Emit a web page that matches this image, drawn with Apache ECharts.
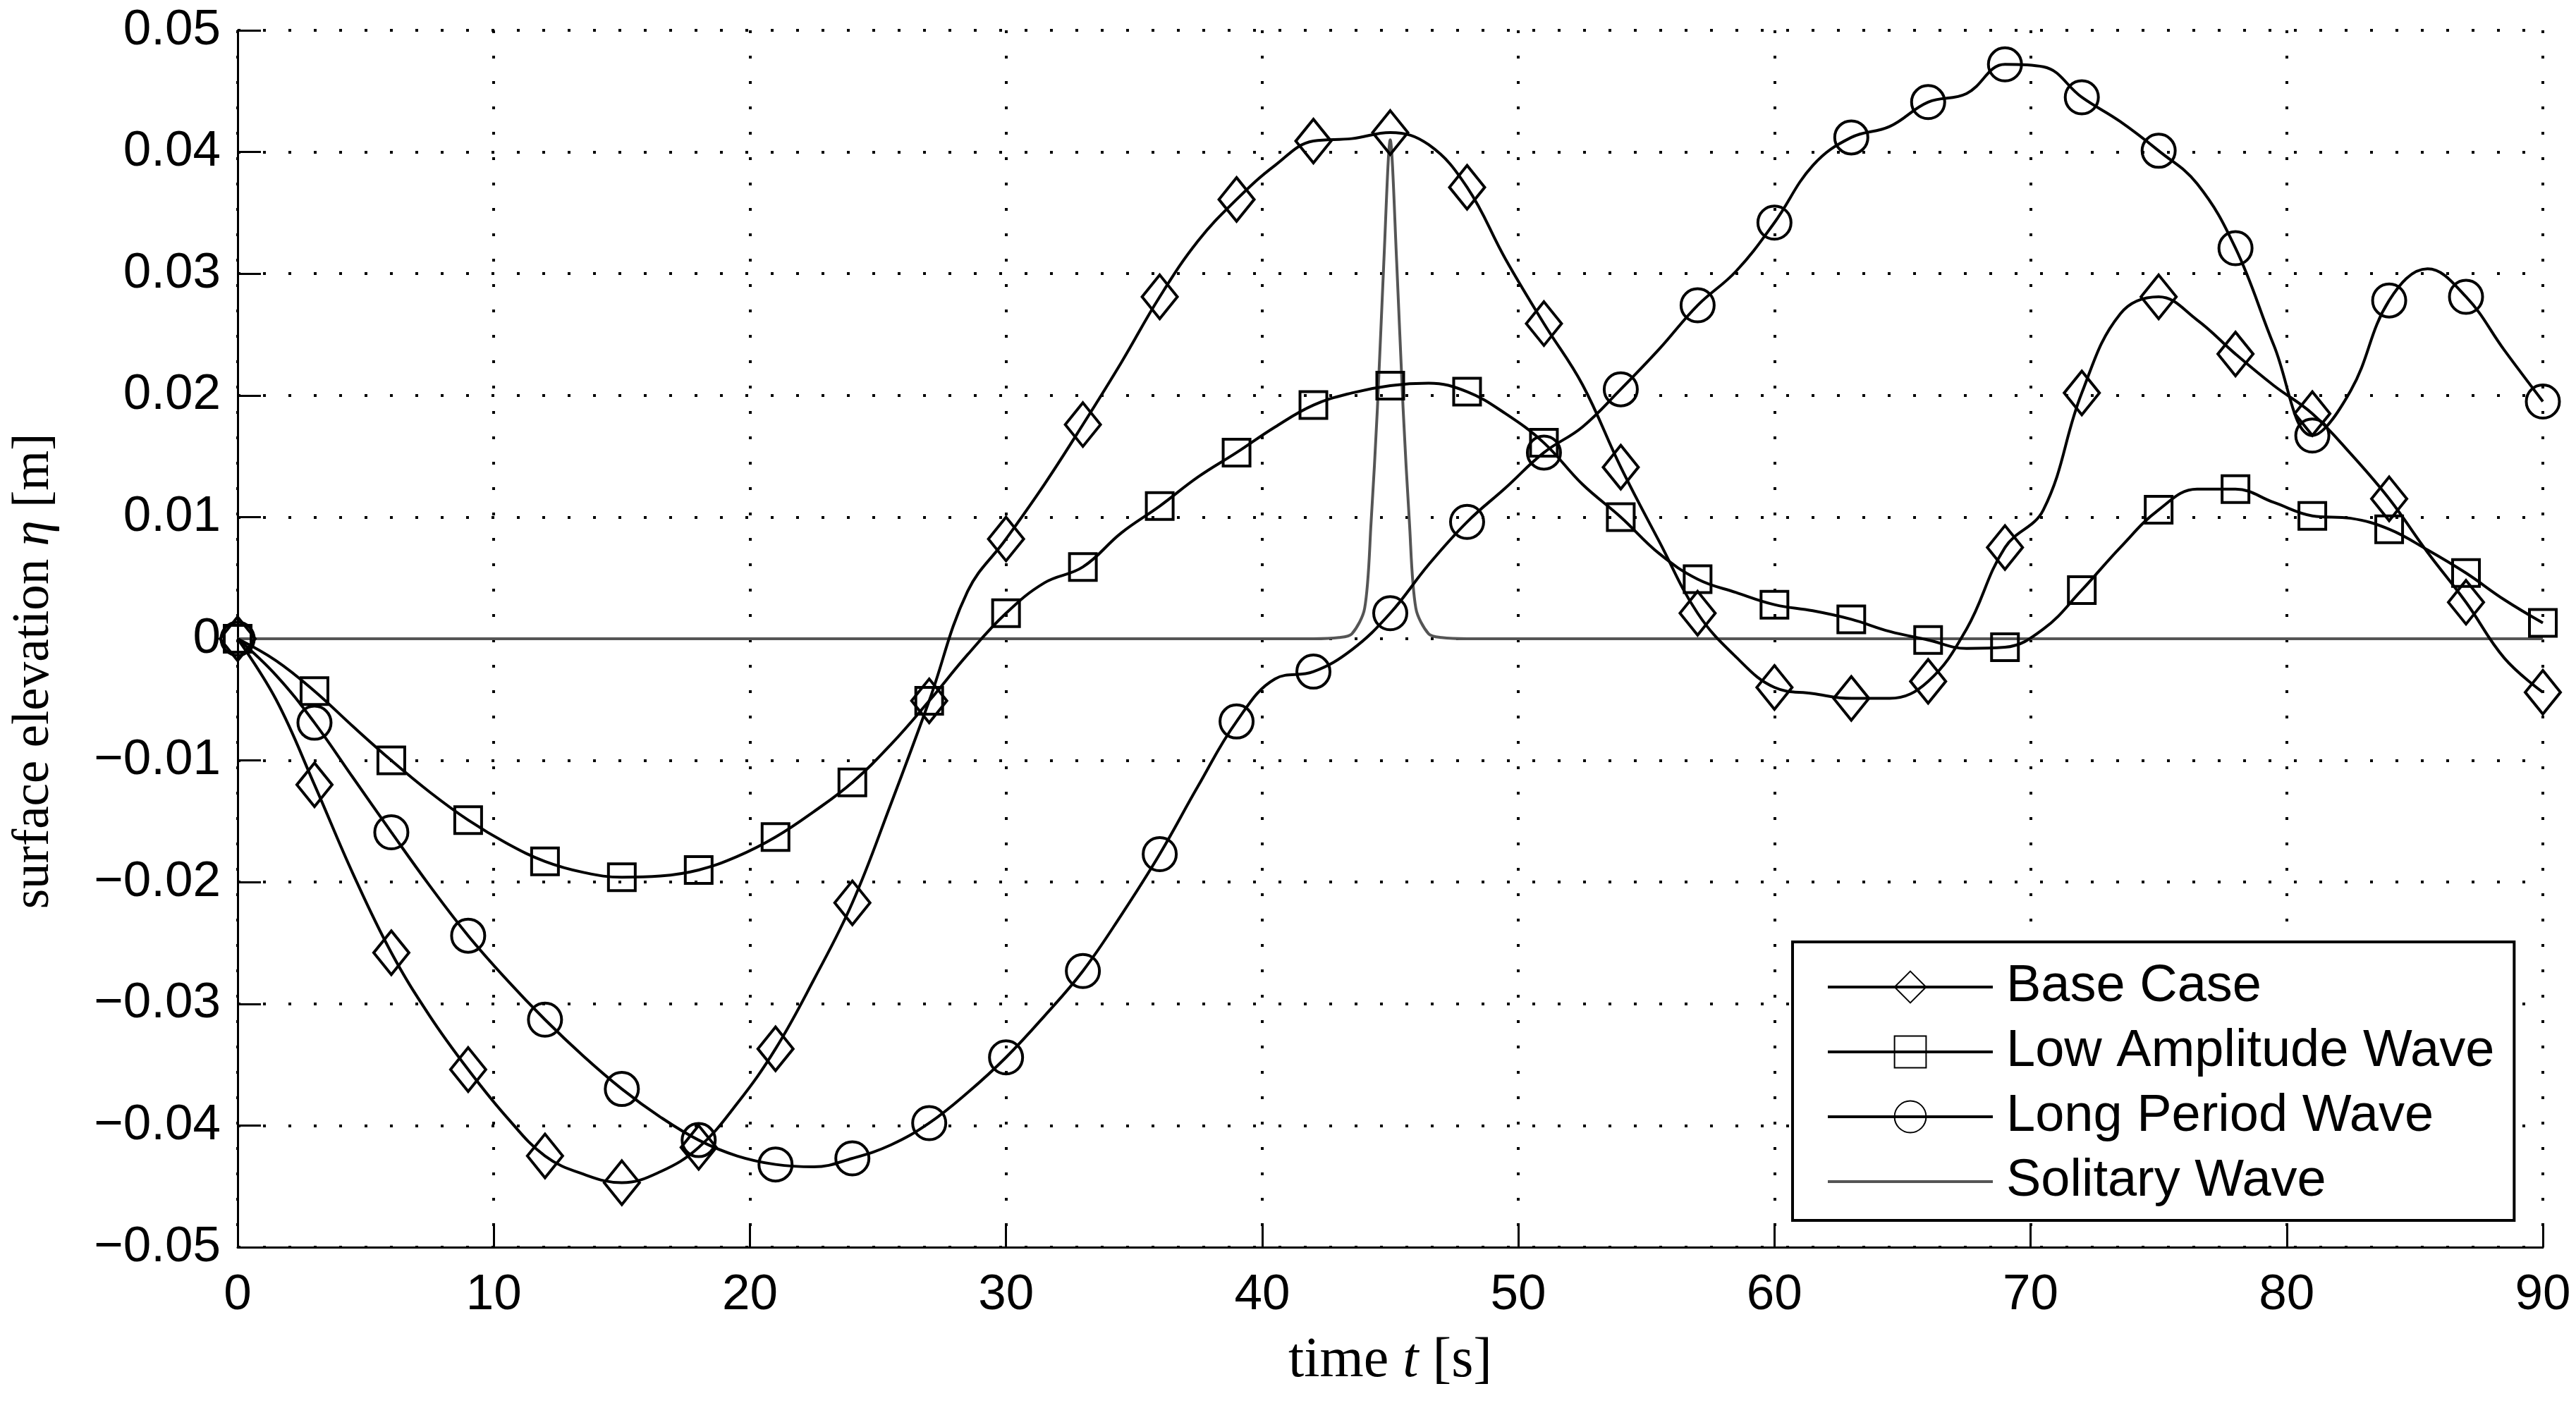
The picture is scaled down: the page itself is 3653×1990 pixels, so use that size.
<!DOCTYPE html>
<html>
<head>
<meta charset="utf-8">
<script src="https://cdn.jsdelivr.net/npm/echarts@6/dist/echarts.min.js"></script>
<style>
html, body { margin: 0; padding: 0; background: #fff; }
#main_chart { width: 3653px; height: 1990px; }
</style>
</head>
<body>
<div id="main_chart"></div>
<script>
// time samples of the curves (every 1.5 s, markers on every 3 s)
var timeLine = [0, 1.5, 3, 4.5, 6, 7.5, 9, 10.5, 12, 13.5, 15, 16.5, 18, 19.5, 21, 22.5, 24, 25.5, 27, 28.5,
    30, 31.5, 33, 34.5, 36, 37.5, 39, 40.5, 42, 43.5, 45, 46.5, 48, 49.5, 51, 52.5, 54, 55.5, 57, 58.5,
    60, 61.5, 63, 64.5, 66, 67.5, 69, 70.5, 72, 73.5, 75, 76.5, 78, 79.5, 81, 82.5, 84, 85.5, 87, 88.5, 90];

var baseCase = [0, -0.0050, -0.0120, -0.0193, -0.0258, -0.0310, -0.0354, -0.0393, -0.0425, -0.0440,
    -0.0447, -0.0438, -0.0418, -0.0382, -0.0337, -0.0280, -0.0217, -0.0136, -0.0051, 0.0039,
    0.0082, 0.0127, 0.0176, 0.0227, 0.0281, 0.0327, 0.0361, 0.0389, 0.0409, 0.0411,
    0.0416, 0.0406, 0.0371, 0.0312, 0.0259, 0.0209, 0.0141, 0.0080, 0.0021, -0.0015,
    -0.0040, -0.0045, -0.0049, -0.0049, -0.0035, 0.0008, 0.0075, 0.0106, 0.0202, 0.0267,
    0.0281, 0.0262, 0.0234, 0.0208, 0.0185, 0.0152, 0.0115, 0.0071, 0.0030, -0.0016, -0.0044];

var lowAmplitude = [0, -0.0018, -0.0043, -0.0072, -0.0100, -0.0126, -0.0149, -0.0168, -0.0183, -0.0192,
    -0.0196, -0.0195, -0.0190, -0.0179, -0.0163, -0.0142, -0.0118, -0.0087, -0.0051, -0.0013,
    0.0021, 0.0046, 0.0059, 0.0087, 0.0109, 0.0133, 0.0153, 0.0174, 0.0192, 0.0202,
    0.0208, 0.0210, 0.0203, 0.0185, 0.0161, 0.0127, 0.0100, 0.0070, 0.0049, 0.0038,
    0.0028, 0.0023, 0.0016, 0.0006, -0.0001, -0.0008, -0.0007, 0.0008, 0.0040, 0.0075,
    0.0106, 0.0123, 0.0123, 0.0112, 0.0101, 0.0099, 0.0090, 0.0073, 0.0054, 0.0032, 0.0013];

var longPeriod = [0, -0.0030, -0.0069, -0.0114, -0.0159, -0.0203, -0.0244, -0.0280, -0.0313, -0.0343,
    -0.0370, -0.0393, -0.0412, -0.0425, -0.0432, -0.0434, -0.0427, -0.0416, -0.0398, -0.0373,
    -0.0344, -0.0310, -0.0273, -0.0227, -0.0177, -0.0121, -0.0068, -0.0033, -0.0027, -0.0009,
    0.0021, 0.0061, 0.0096, 0.0124, 0.0153, 0.0174, 0.0205, 0.0238, 0.0274, 0.0302,
    0.0342, 0.0389, 0.0412, 0.0421, 0.0441, 0.0448, 0.0472, 0.0470, 0.0445, 0.0425,
    0.0401, 0.0374, 0.0321, 0.0241, 0.0167, 0.0204, 0.0278, 0.0304, 0.0281, 0.0237, 0.0195];

// solitary wave: flat except a narrow peak near 45 s
var solitaryTime = [0, 42, 43, 43.5, 44, 44.25, 44.5, 44.75, 45, 45.25, 45.5, 45.75, 46, 46.5, 47, 48, 90];
var solitaryWave = [0, 0, 0.0001, 0.0004, 0.0025, 0.0095, 0.019, 0.031, 0.041, 0.031, 0.019, 0.0095, 0.0025, 0.0004, 0.0001, 0, 0];

var seriesNames = ['Base Case', 'Low Amplitude Wave', 'Long Period Wave', 'Solitary Wave'];

var sansFont = 'Liberation Sans';
var serifFont = 'Liberation Serif';

function withMarkers(values) {
    var out = [];
    for (var i = 0; i < timeLine.length; i++) {
        if (i % 2 === 0) {
            out.push([timeLine[i], values[i]]);
        } else {
            out.push({ value: [timeLine[i], values[i]], symbol: 'none' });
        }
    }
    return out;
}

function markerSeries(name, values, symbol, size) {
    return {
        name: name,
        type: 'line',
        data: withMarkers(values),
        smooth: 0.4,
        symbol: symbol,
        symbolSize: size,
        showAllSymbol: true,
        color: '#000',
        lineStyle: { color: '#000', width: 4 },
        itemStyle: { color: 'rgba(0,0,0,0)', borderColor: '#000', borderWidth: 4 },
        emphasis: { disabled: true }
    };
}

var solitaryData = solitaryTime.map(function (t, i) { return [t, solitaryWave[i]]; });

const myChart = echarts.init(document.getElementById('main_chart'));

var option = {
    animation: false,
    backgroundColor: '#fff',
    grid: { left: 337, top: 43, width: 3269, height: 1726 },
    legend: {
        data: seriesNames,
        orient: 'vertical',
        left: 2542,
        top: 1336,
        padding: [27, 28, 18, 48],
        itemWidth: 234,
        itemHeight: 56,
        itemGap: 18,
        backgroundColor: '#fff',
        borderColor: '#000',
        borderWidth: 4,
        borderRadius: 0,
        lineStyle: { width: 4 },
        textStyle: { fontFamily: sansFont, fontSize: 74, color: '#000', padding: [0, 0, 0, 14] }
    },
    xAxis: {
        type: 'value',
        min: 0,
        max: 90,
        interval: 10,
        name: 'time {i|t} [s]',
        nameLocation: 'middle',
        nameGap: 122,
        nameTextStyle: {
            fontFamily: serifFont, fontSize: 80, color: '#000',
            rich: { i: { fontFamily: serifFont, fontSize: 80, fontStyle: 'italic', color: '#000' } }
        },
        axisLine: { onZero: false, lineStyle: { color: '#000', width: 3 } },
        axisTick: { inside: true, length: 33, lineStyle: { color: '#000', width: 3 } },
        axisLabel: { fontFamily: sansFont, fontSize: 71, color: '#000', margin: 33 },
        splitLine: { show: true, lineStyle: { color: '#000', width: 4, type: [4, 32] } }
    },
    yAxis: {
        type: 'value',
        min: -0.05,
        max: 0.05,
        interval: 0.01,
        name: 'surface elevation {i|η} [m]',
        nameLocation: 'middle',
        nameGap: 252,
        nameRotate: 90,
        nameTextStyle: {
            fontFamily: serifFont, fontSize: 73, color: '#000',
            padding: [0, 92, 0, 0],
            rich: { i: { fontFamily: serifFont, fontSize: 73, fontStyle: 'italic', color: '#000' } }
        },
        axisLine: { lineStyle: { color: '#000', width: 3 } },
        axisTick: { inside: true, length: 33, lineStyle: { color: '#000', width: 3 } },
        axisLabel: {
            fontFamily: sansFont, fontSize: 71, color: '#000', margin: 24,
            formatter: function (v) {
                if (Math.abs(v) < 1e-9) return '0';
                return (v < 0 ? '\u2212' : '') + Math.abs(v).toFixed(2);
            }
        },
        splitLine: { show: true, lineStyle: { color: '#000', width: 4, type: [4, 32] } }
    },
    series: [
        markerSeries(seriesNames[0], baseCase, 'diamond', [50, 62]),
        markerSeries(seriesNames[1], lowAmplitude, 'rect', 38),
        markerSeries(seriesNames[2], longPeriod, 'circle', 47),
        {
            name: seriesNames[3],
            type: 'line',
            data: solitaryData,
            smooth: 0.3,
            symbol: 'none',
            color: '#555',
            lineStyle: { color: '#555', width: 4 },
            itemStyle: { color: 'rgba(0,0,0,0)', borderWidth: 0 },
            emphasis: { disabled: true },
            z: 1
        }
    ]
};

myChart.setOption(option);
window.onresize = function () {
    myChart.resize();
};
</script>
</body>
</html>
